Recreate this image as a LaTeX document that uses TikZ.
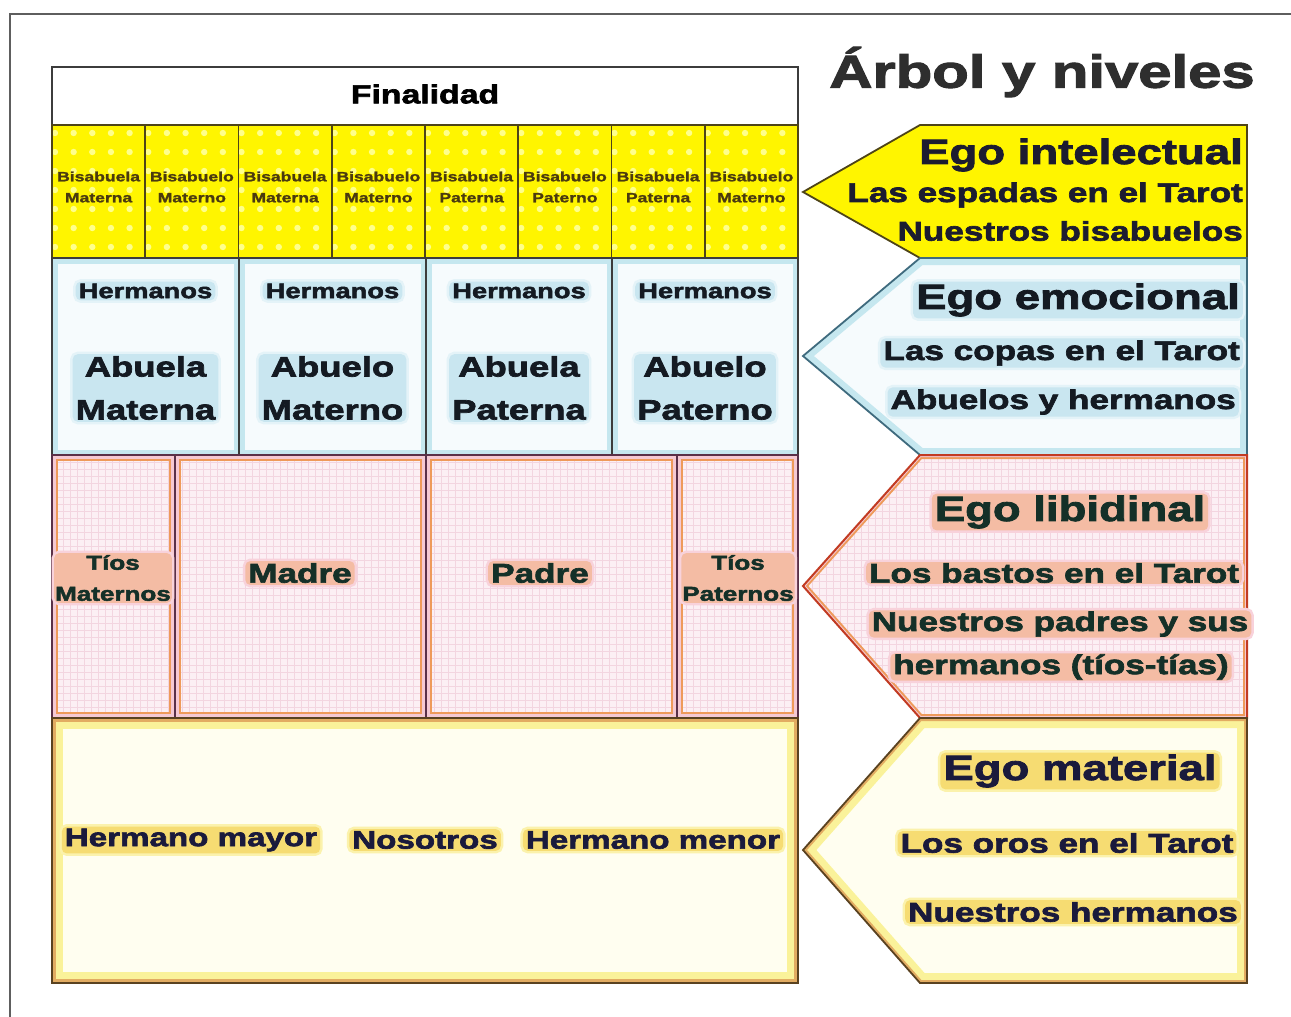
\documentclass[tikz,border=0pt]{standalone}
\usepackage{fontspec}
\setmainfont{Liberation Sans}
\newfontfamily\wf[FakeStretch=1.3,FakeBold=2.5,UprightFont={* Bold}]{Liberation Sans}
\newfontfamily\wfs[FakeStretch=1.3,FakeBold=1.5,UprightFont={* Bold}]{Liberation Sans}

\definecolor{frame}{HTML}{5E5E5E}
\definecolor{tbl}{HTML}{3C3C3C}
\definecolor{yel}{HTML}{FFF500}
\definecolor{yeldot}{HTML}{FFFF8C}
\definecolor{yelline}{HTML}{4E4418}
\definecolor{bluefill}{HTML}{F6FBFD}
\definecolor{blueband}{HTML}{C5E7EF}
\definecolor{blueline}{HTML}{3F6B7E}
\definecolor{pinkfill}{HTML}{FCEFF4}
\definecolor{pinkgrid}{HTML}{F3D5E0}
\definecolor{pinkband}{HTML}{F5C9D3}
\definecolor{pinkorange}{HTML}{EE9A5A}
\definecolor{pinkdark}{HTML}{5A3048}
\definecolor{redline}{HTML}{C23B22}
\definecolor{cream}{HTML}{FFFEF0}
\definecolor{creamband}{HTML}{FAF29A}
\definecolor{creamorange}{HTML}{E2AC62}
\definecolor{creamdark}{HTML}{5A4220}
\definecolor{tbis}{HTML}{4A3A10}
\definecolor{tblue}{HTML}{141A22}
\definecolor{tpink}{HTML}{143028}
\definecolor{tcream}{HTML}{1A1A3C}
\definecolor{tyel}{HTML}{1C1C30}
\definecolor{ttitle}{HTML}{2E2E2E}
\definecolor{haloBi}{HTML}{C9E6F0}
\definecolor{haloBo}{HTML}{E4F3F8}
\definecolor{haloPi}{HTML}{F4BCA4}
\definecolor{haloPo}{HTML}{F8D2DB}
\definecolor{haloYi}{HTML}{F6DC72}
\definecolor{haloYo}{HTML}{FBF2AC}

\newcommand\arrowpath[3]{(1247,#1) -- (920,#1) -- (803,#2) -- (920,#3) -- (1247,#3) -- cycle}

\tikzset{
 tx/.style={inner sep=0pt, font=\wf},
 bigtxt/.style={inner sep=0pt, font=\wf\fontsize{35}{40}\selectfont},
 subtxt/.style={inner sep=0pt, font=\wf\fontsize{27}{32}\selectfont},
 bistxt/.style={inner sep=0pt, align=center, text=tbis, font=\wfs\fontsize{13.5}{21}\selectfont},
 tblline/.style={draw=tbl, line width=1.6pt},
 hb/.style={fill=haloBi, rounded corners=5pt, inner xsep=3pt, inner ysep=2pt, preaction={draw=haloBo, line width=5pt}},
 hp/.style={fill=haloPi, rounded corners=5pt, inner xsep=3pt, inner ysep=2pt, preaction={draw=haloPo, line width=5pt}},
 hy/.style={fill=haloYi, rounded corners=5pt, inner xsep=3pt, inner ysep=2pt, preaction={draw=haloYo, line width=5pt}},
}

\begin{document}
\begin{tikzpicture}[x=1pt,y=-1pt]
\useasboundingbox (0,0) rectangle (1291,1017);
\fill[white] (0,0) rectangle (1291,1017);
\draw[frame, line width=1.5pt] (10,1017) -- (10,14) -- (1291,14);

% ---------- Finalidad row
\draw[tblline, fill=white] (52,67) rectangle (798,125);
\node[tx, font=\wf\fontsize{26}{30}\selectfont, text=black] (fin) at (425,94) {Finalidad};

% ---------- yellow row
\fill[yel] (52,125) rectangle (798,258);
\begin{scope}
 \clip (52,125) rectangle (798,258);
 \foreach \i in {0,...,40}
  \foreach \j in {0,...,6}
   \fill[yeldot] ({55+\i*18.65},{133+\j*19}) circle (3.2);
\end{scope}
\foreach \k in {1,...,7}
 \draw[draw=yelline, line width=1.6pt] ({52+\k*93.25},125) -- ({52+\k*93.25},258);
\draw[draw=yelline, line width=1.6pt] (52,125) rectangle (798,258);
\foreach \i/\a/\b in {1/Bisabuela/Materna, 2/Bisabuelo/Materno, 3/Bisabuela/Materna, 4/Bisabuelo/Materno, 5/Bisabuela/Paterna, 6/Bisabuelo/Paterno, 7/Bisabuela/Paterna, 8/Bisabuelo/Materno}
 \node[bistxt] (bis\i) at ({52+93.25*(\i-0.5)},187) {\a\\\b};

% ---------- blue row
\foreach \a/\b in {52/239,239/426,426/612,612/798}{
 \begin{scope}
  \clip (\a,258) rectangle (\b,455);
  \fill[bluefill] (\a,258) rectangle (\b,455);
  \draw[blueband, line width=11pt] (\a,258) rectangle (\b,455);
 \end{scope}
 \draw[tblline] (\a,258) rectangle (\b,455);
}
\foreach \i/\x/\a/\b in {1/145.5/Abuela/Materna, 2/332.5/Abuelo/Materno, 3/519/Abuela/Paterna, 4/705/Abuelo/Paterno}{
 \node[tx, hb, text=tblue, font=\wf\fontsize{21}{25}\selectfont] (herm\i) at (\x,291) {Hermanos};
 \node[tx, hb, text=tblue, align=center, font=\wf\fontsize{28}{43}\selectfont] (ab\i) at (\x,388) {\a\\\b};
}

% ---------- pink row
\foreach \a/\b in {52/175,175/426,426/677,677/798}{
 \begin{scope}
  \clip (\a,455) rectangle (\b,718);
  \fill[pinkfill] (\a,455) rectangle (\b,718);
  \draw[pinkgrid, line width=0.6pt, xstep=7pt, ystep=7pt] (\a,455) grid (\b,718);
  \draw[pinkband, line width=9pt] (\a,455) rectangle (\b,718);
 \end{scope}
 \draw[pinkorange, line width=1.6pt] ({\a+5},460) rectangle ({\b-5},713);
 \draw[pinkdark, line width=2pt] (\a,455) rectangle (\b,718);
}
\node[tx, hp, inner xsep=1pt, text=tpink, align=center, font=\wf\fontsize{20}{31}\selectfont] (tm) at (113,578) {Tíos\\Maternos};
\node[tx, hp, text=tpink, font=\wf\fontsize{27}{31}\selectfont] (madre) at (300,573) {Madre};
\node[tx, hp, text=tpink, font=\wf\fontsize{27}{31}\selectfont] (padre) at (540,573) {Padre};
\node[tx, hp, inner xsep=1pt, text=tpink, align=center, font=\wf\fontsize{20}{31}\selectfont] (tp) at (738,578) {Tíos\\Paternos};

% ---------- bottom row
\begin{scope}
 \clip (52,718) rectangle (798,983);
 \fill[cream] (52,718) rectangle (798,983);
 \draw[creamband, line width=22pt] (52,718) rectangle (798,983);
 \draw[creamorange, line width=8pt] (52,718) rectangle (798,983);
\end{scope}
\draw[creamdark, line width=2pt] (52,718) rectangle (798,983);
\node[tx, hy, text=tcream, font=\wf\fontsize{25.5}{30}\selectfont] (hmay) at (191,840) {Hermano mayor};
\node[tx, hy, text=tcream, font=\wf\fontsize{25.5}{30}\selectfont] (nos) at (425,840) {Nosotros};
\node[tx, hy, text=tcream, font=\wf\fontsize{25.5}{30}\selectfont] (hmen) at (653,840) {Hermano menor};

% ---------- title
\node[tx, text=ttitle, font=\wf\fontsize{46}{50}\selectfont] (title) at (1042,72) {Árbol y niveles};

% ---------- yellow arrow
\fill[yel] \arrowpath{125}{192}{258};
\draw[yelline, line width=1.8pt, line join=miter] \arrowpath{125}{192}{258};
\node[bigtxt, text=tyel, anchor=east] (y1) at (1243,155) {Ego intelectual};
\node[subtxt, text=tyel, anchor=east] (y2) at (1243,195) {Las espadas en el Tarot};
\node[subtxt, text=tyel, anchor=east] (y3) at (1243,231) {Nuestros bisabuelos};

% ---------- blue arrow
\begin{scope}
 \clip \arrowpath{258}{356}{455};
 \fill[bluefill] \arrowpath{258}{356}{455};
 \draw[blueband, line width=14pt] \arrowpath{258}{356}{455};
\end{scope}
\draw[blueline, line width=1.8pt] \arrowpath{258}{356}{455};
\node[bigtxt, hb, text=tblue, anchor=east] (b1) at (1243,300) {Ego emocional};
\node[subtxt, hb, text=tblue, anchor=east] (b2) at (1243,353) {Las copas en el Tarot};
\node[subtxt, hb, text=tblue, anchor=east] (b3) at (1239,402) {Abuelos y hermanos};

% ---------- pink arrow
\begin{scope}
 \clip \arrowpath{455}{586}{718};
 \fill[pinkfill] \arrowpath{455}{586}{718};
 \draw[pinkgrid, line width=0.6pt, xstep=7pt, ystep=7pt] (800,450) grid (1250,720);
 \draw[pinkorange, line width=8pt] \arrowpath{455}{586}{718};
 \draw[pinkband, line width=4pt] \arrowpath{455}{586}{718};
\end{scope}
\draw[redline, line width=2pt] \arrowpath{455}{586}{718};
\node[bigtxt, hp, text=tpink] (p1) at (1070,512) {Ego libidinal};
\node[subtxt, hp, inner ysep=1pt, text=tpink] (p2) at (1054,573) {Los bastos en el Tarot};
\node[subtxt, hp, inner ysep=1pt, text=tpink] (p3) at (1060,624) {Nuestros padres y sus};
\node[subtxt, hp, inner ysep=1pt, text=tpink] (p4) at (1061,667) {hermanos (tíos-tías)};

% ---------- bottom arrow
\begin{scope}
 \clip \arrowpath{718}{850}{983};
 \fill[cream] \arrowpath{718}{850}{983};
 \draw[creamband, line width=20pt] \arrowpath{718}{850}{983};
 \draw[creamorange, line width=6pt] \arrowpath{718}{850}{983};
\end{scope}
\draw[creamdark, line width=1.8pt] \arrowpath{718}{850}{983};
\node[bigtxt, hy, text=tcream] (m1) at (1080,771) {Ego material};
\node[subtxt, hy, text=tcream] (m2) at (1067,843) {Los oros en el Tarot};
\node[subtxt, hy, text=tcream] (m3) at (1073,912) {Nuestros hermanos};
\end{tikzpicture}
\end{document}
